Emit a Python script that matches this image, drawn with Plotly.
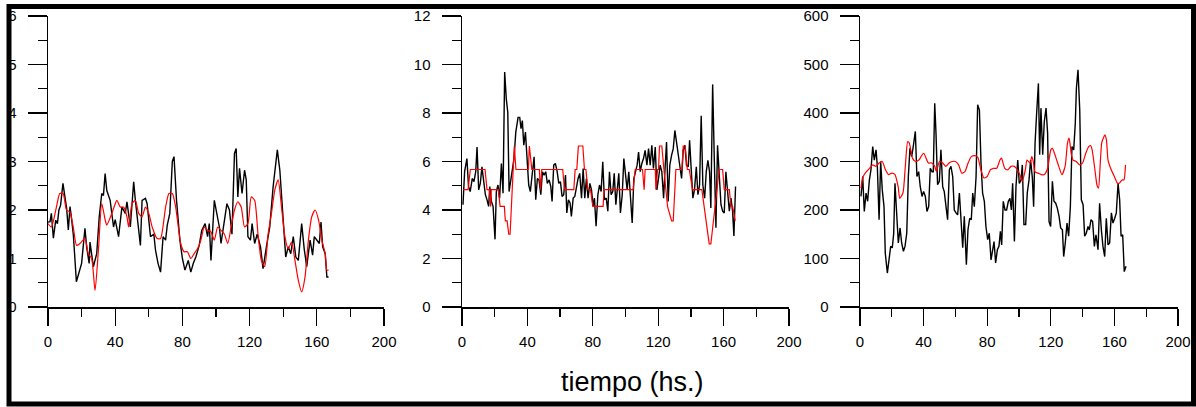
import plotly.graph_objects as go

# ---------------- data ----------------
# Panel 1
p1_black_t = [0, 1.2, 2, 3.2, 4.6, 5.6, 6.5, 7.5, 8.9, 10.1, 11.1, 12.1, 13.1, 13.9, 15.1, 16.9, 20, 22, 23, 24.5,
              25, 27, 29, 30.5, 32, 33, 34, 35, 37, 39, 40, 42, 43, 44, 46, 47, 49, 51, 52, 53,
              55, 56, 58, 59, 61, 63, 64, 65.5, 67, 68.5, 70, 71, 72.5, 74, 75, 76.5, 78.5, 80, 81.5, 83.5,
              85, 86.5, 88, 90, 91.5, 93.5, 95, 96, 97, 99, 100.5, 102, 103, 104.5, 106.5, 108, 109.5, 111, 112, 113,
              114, 115.5, 117, 118, 119, 120.5, 121.5, 123, 124.5, 126.5, 128, 130, 132, 134, 135.5, 136.5, 138, 140, 141.5, 143,
              144.5, 146, 147.5, 149, 151, 152.5, 154, 156, 157.5, 158.5, 160, 161.5, 162.5, 163.5, 165, 166, 167]
p1_black_v = [1.75, 1.76, 1.93, 1.42, 1.79, 1.72, 2.0, 2.1, 2.55, 2.27, 2.03, 1.59, 2.07, 1.86, 1.48, 0.52, 0.9, 1.62, 1.24, 0.9,
              1.34, 0.83, 1.1, 1.86, 2.34, 2.3, 2.75, 2.4, 2.2, 1.65, 1.8, 1.45, 1.8, 2.06, 1.93, 2.17, 1.65, 2.58, 2.2, 1.86,
              1.27, 2.2, 2.24, 2.13, 1.45, 1.5, 1.17, 0.9, 0.72, 1.45, 1.38, 1.69, 1.93, 3.0, 3.1, 2.2, 1.38, 1.0, 0.76, 0.96,
              0.72, 0.9, 1.03, 1.27, 1.58, 1.72, 1.45, 1.72, 0.96, 2.2, 1.93, 1.65, 1.31, 1.65, 2.13, 2.0, 1.5, 3.17, 3.27, 2.27,
              2.86, 2.34, 2.82, 2.62, 1.45, 1.38, 1.72, 1.31, 1.5, 1.24, 0.79, 1.24, 1.65, 2.48, 3.03, 3.24, 2.82, 1.65, 1.03, 1.24,
              1.1, 1.45, 1.03, 0.96, 1.72, 1.2, 0.83, 1.38, 1.07, 1.45, 1.38, 1.31, 1.75, 1.24, 1.1, 0.62, 0.62]
p1_red_t = [0, 2, 5, 7, 9, 11, 13, 15, 17, 19, 22, 24, 26, 28, 30, 32, 34, 35, 38, 41,
            43, 45, 47, 48, 50, 52, 54, 56, 58, 60, 62, 65, 67, 70, 72, 74, 76, 79, 81, 83,
            85, 87, 89, 91, 93, 95, 97, 99, 101, 103, 105, 107, 109, 111, 113, 115, 117, 119, 121, 123,
            125, 127, 129, 131, 133, 135, 137, 139, 141, 143, 145, 147, 149, 151, 153, 155, 157, 159, 161, 163,
            165, 166, 167]
p1_red_v = [1.72, 1.65, 2.06, 2.34, 2.34, 2.0, 1.96, 1.65, 1.27, 1.31, 1.41, 1.1, 1.0, 0.34, 1.17, 2.13, 1.8, 1.69, 1.93, 2.2,
            2.06, 2.06, 1.86, 1.65, 2.13, 2.2, 1.93, 1.86, 2.06, 1.93, 1.65, 1.41, 1.41, 2.06, 2.34, 2.34, 2.06, 1.31, 1.14, 1.14,
            1.0, 1.1, 1.2, 1.38, 1.65, 1.58, 1.55, 1.38, 1.65, 1.58, 1.5, 1.31, 1.65, 2.0, 2.17, 2.06, 1.65, 1.72, 2.27, 2.2,
            1.5, 0.96, 0.83, 1.5, 1.93, 2.41, 2.62, 2.06, 1.45, 1.2, 1.34, 0.96, 0.55, 0.31, 0.62, 1.38, 1.86, 2.0, 1.8, 1.38,
            1.1, 0.76, 0.76]

# Panel 2
p2_black_t = [0.6, 1.6, 3, 4, 5, 6.3, 7.3, 8.4, 9.2, 10.2, 11.2, 12.2, 13.3, 14.3, 15.3, 16.3, 17, 18, 19, 20.2,
              21, 22, 23, 24.1, 25.1, 26.1, 27.1, 28, 28.8, 29.8, 30.8, 31.8, 32.9, 34.3, 35.3, 36.1, 36.9, 37.8, 38.8, 39.8,
              40.8, 41.8, 43.1, 44.1, 45.1, 46.1, 47.1, 48.2, 49.2, 50.2, 51.2, 52.2, 53.3, 54.3, 55.1, 56.1, 57.1, 58.2, 59.2, 60.2,
              61.2, 62.2, 63.3, 64.1, 65.1, 66.1, 66.9, 68, 69, 70, 71, 72, 73.1, 74.1, 75.1, 76.1, 77.1, 78.2, 79.2, 80.2,
              81, 82, 83.1, 84.1, 85.1, 86.1, 87.1, 88.2, 89.2, 90.2, 91.2, 92.2, 93.1, 94.1, 95.1, 95.9, 96.9, 98, 99, 100,
              101, 102, 103.1, 104.1, 105.1, 106.1, 107.1, 108, 109, 110, 111, 112, 113.1, 114.1, 115.1, 116.1, 117.1, 118.2, 119.2, 120.2,
              121.2, 122.2, 123.3, 124.3, 125.1, 126.1, 127.1, 128.2, 129.2, 130.2, 131.2, 132.2, 133.3, 134.3, 135.3, 136.3, 137.3, 138.4, 139.2, 140.2,
              141.2, 142.2, 143.3, 144.3, 145.3, 146.3, 147.3, 148.4, 149.4, 150.4, 151.4, 152.2, 153.3, 154.3, 155.3, 156.3, 157.3, 158.4, 159.4, 160.4,
              161.4, 162.4, 163.5, 164.5, 165.5, 166.3, 167.3]
p2_black_v = [4.22, 5.58, 6.12, 4.97, 4.76, 5.3, 5.17, 5.58, 6.6, 4.83, 5.1, 5.78, 5.17, 4.63, 4.42, 4.15, 4.97, 4.35, 4.15, 2.79,
              4.76, 5.03, 4.49, 5.92, 4.69, 9.69, 8.57, 8.03, 4.76, 5.17, 5.58, 6.12, 7.21, 7.82, 7.82, 7.35, 7.69, 6.67, 7.21, 5.99,
              5.03, 4.76, 5.58, 6.19, 4.42, 5.3, 5.24, 4.63, 5.58, 5.44, 5.58, 5.1, 5.24, 4.97, 4.35, 5.85, 5.92, 5.58, 5.1, 5.17,
              4.56, 4.63, 5.44, 3.88, 4.42, 4.29, 3.74, 4.49, 4.56, 5.03, 5.3, 5.51, 4.49, 5.71, 4.49, 5.3, 4.49, 5.1, 4.83, 4.15,
              4.49, 3.33, 4.63, 5.03, 4.76, 5.99, 4.42, 4.49, 3.95, 5.58, 4.63, 4.76, 5.51, 4.22, 5.1, 5.51, 3.88, 4.63, 6.12, 5.3,
              4.83, 5.58, 4.63, 3.47, 5.3, 5.58, 5.85, 6.39, 5.58, 5.92, 6.12, 6.46, 5.85, 6.53, 5.85, 6.67, 5.71, 6.6, 4.83, 5.3,
              5.85, 5.58, 4.49, 5.85, 6.8, 4.35, 5.85, 6.26, 6.53, 7.28, 6.8, 6.26, 5.85, 5.3, 6.46, 6.67, 5.85, 5.78, 6.87, 5.65,
              4.49, 4.83, 5.78, 4.63, 5.03, 7.89, 5.03, 4.49, 5.58, 6.05, 5.58, 4.08, 9.18, 6.12, 3.27, 6.67, 5.58, 4.22, 3.95, 3.88,
              5.58, 4.63, 3.95, 4.49, 3.95, 2.93, 4.97]
p2_red_t = [0.6, 3.7, 5.1, 14.1, 15.3, 16.7, 17.5, 17.9, 22.2, 23.3, 25.9, 26.5, 27.6, 28.6, 29.4, 32.0, 33.0, 40.6, 41.2, 42.7,
            47.3, 48.0, 48.8, 61.6, 62.7, 68.4, 69.2, 70.2, 71.2, 73.9, 74.9, 75.8, 76.9, 78.6, 80.0, 86.3, 86.9, 104.7, 105.9, 108.0,
            108.6, 110.4, 111.4, 112.0, 118.2, 118.6, 119.6, 120.2, 120.8, 122.2, 123.5, 125.7, 128.2, 129.2, 130.8, 134.5, 135.3, 136.5, 137.8, 139.0,
            141.0, 146.7, 151.2, 152.2, 157.3, 159.4, 160.4, 163.5, 164.5, 165.5, 167.1]
p2_red_v = [4.84, 4.84, 5.67, 5.67, 4.84, 4.84, 4.15, 4.84, 4.84, 4.15, 4.15, 3.55, 3.55, 3.0, 3.0, 6.64, 5.67, 5.67, 6.64, 5.67,
            5.67, 4.84, 5.67, 5.67, 4.84, 4.84, 5.67, 5.67, 6.64, 6.64, 5.67, 5.67, 4.84, 4.84, 4.15, 4.15, 4.84, 4.84, 5.67, 5.67,
            5.67, 5.67, 4.84, 5.67, 5.67, 4.84, 5.67, 5.67, 6.64, 6.64, 5.67, 4.15, 3.55, 3.55, 5.67, 5.67, 6.64, 6.64, 5.67, 5.67,
            4.84, 4.84, 2.6, 2.6, 5.67, 5.67, 4.84, 4.84, 4.15, 4.15, 3.55]

# Panel 3
p3_black_t = [0.6, 1.7, 2.7, 3.8, 4.8, 5.9, 6.9, 8, 9, 10.1, 10.9, 12, 13, 14, 15.1, 15.9, 17.2, 18.2, 19.3, 20.3,
              21.2, 22, 23.1, 24.1, 25.2, 26.2, 27.3, 28.3, 29.4, 30.4, 31.4, 32.5, 33.5, 34.8, 35.8, 36.9, 37.9, 39, 40, 41.1,
              42.1, 43.2, 44.2, 45.3, 46.1, 47, 47.8, 48.8, 49.9, 50.9, 52, 53, 54.1, 55.1, 56.2, 57.2, 58.3, 59.3, 60.4, 61.4,
              62.5, 63.5, 64.6, 65.6, 66.9, 67.9, 69, 70, 70.9, 71.9, 73, 74, 75.1, 76.1, 77.1, 78.2, 79.2, 80.3, 81.3, 82.4,
              83.4, 84.3, 85.3, 86.4, 87.4, 88.3, 89.1, 90.1, 91.2, 92.2, 93.3, 94.3, 95.2, 96, 97.1, 98.1, 99.2, 100.2, 101.3, 102.1,
              103.1, 104.2, 105.2, 106.3, 107.3, 108.4, 109.2, 110.1, 111.1, 112.2, 113, 113.8, 114.9, 115.9, 117, 118, 118.9, 119.9, 121, 122,
              123.1, 124.1, 125.2, 126.2, 127.3, 128.1, 129.1, 130.2, 131.2, 132.3, 133.3, 134.4, 135.4, 136.1, 137.1, 138.2, 139.2, 140.3, 141.3, 142.3,
              143.4, 144.2, 145.3, 146.3, 147.4, 148.4, 149.7, 150.7, 151.8, 152.8, 153.9, 154.9, 156, 157, 158.1, 159.1, 160.2, 161.2, 162.3, 163.3,
              164.2, 165.2, 166.2, 167.3]
p3_black_v = [228, 269, 197, 235, 218, 262, 283, 331, 303, 324, 290, 180, 300, 242, 207, 111, 70, 97, 125, 122,
              152, 255, 200, 132, 163, 132, 115, 125, 152, 269, 327, 310, 331, 362, 269, 279, 248, 228, 238, 228,
              197, 207, 286, 279, 279, 420, 358, 252, 259, 324, 248, 238, 207, 180, 283, 290, 269, 200, 194, 190,
              235, 180, 122, 187, 87, 159, 183, 180, 235, 207, 269, 417, 406, 297, 235, 218, 166, 139, 152, 97,
              115, 135, 91, 118, 125, 156, 128, 218, 200, 200, 218, 224, 200, 255, 135, 248, 303, 255, 262, 293,
              170, 170, 235, 262, 303, 266, 207, 338, 400, 461, 314, 410, 314, 382, 410, 358, 176, 166, 259, 218,
              214, 204, 187, 163, 159, 104, 132, 173, 146, 207, 331, 324, 379, 451, 489, 406, 221, 211, 146, 152,
              166, 159, 180, 176, 125, 149, 118, 214, 159, 125, 104, 183, 128, 132, 194, 173, 183, 194, 255, 221,
              146, 149, 73, 84]
p3_red_t = [0.6, 2, 4, 6, 8, 10, 12, 14, 16, 18, 20, 22, 24, 25, 27, 28.5, 30, 31, 33, 35,
            37, 40, 43, 45, 47, 48, 50, 52, 54, 56, 58, 60, 62, 64, 66, 68, 70, 72, 74, 76,
            78, 80, 82, 84, 86, 88, 89, 91, 93, 95, 97, 99, 101, 102, 104, 105, 106, 107, 108, 109,
            110, 112, 114, 116, 118, 120, 121, 123, 125, 127, 129, 130.5, 131.5, 133, 134, 136, 138, 140, 142, 144,
            145, 146, 148, 149, 150, 151, 152, 153, 154, 155, 156, 158, 160, 162, 163, 164, 165, 166, 167]
p3_red_v = [245, 269, 279, 286, 293, 290, 297, 300, 283, 273, 276, 273, 248, 224, 235, 290, 341, 338, 307, 300,
            303, 317, 297, 297, 290, 279, 300, 297, 290, 297, 300, 300, 293, 276, 279, 297, 310, 312, 309, 283,
            266, 269, 283, 286, 286, 303, 307, 286, 283, 290, 290, 283, 269, 259, 283, 303, 300, 297, 310, 300,
            279, 276, 273, 273, 286, 324, 327, 310, 290, 273, 290, 338, 348, 313, 303, 300, 293, 297, 317, 331,
            333, 324, 276, 252, 245, 290, 338, 348, 355, 344, 303, 283, 269, 255, 255, 259, 262, 262, 293]

x_ticks = [0, 40, 80, 120, 160, 200]
x_minor = [20, 60, 100, 140, 180]
y_ticks_1 = [0, 1, 2, 3, 4, 5, 6]
y_ticks_2 = [0, 2, 4, 6, 8, 10, 12]
y_ticks_3 = [0, 100, 200, 300, 400, 500, 600]
x_title = "tiempo (hs.)"

# ---------------- figure ----------------
W, H = 1196, 407
FONT = "Liberation Sans, Arial, sans-serif"

fig = go.Figure()

panels = [
    (p1_black_t, p1_black_v, p1_red_t, p1_red_v, "spline"),
    (p2_black_t, p2_black_v, p2_red_t, p2_red_v, "linear"),
    (p3_black_t, p3_black_v, p3_red_t, p3_red_v, "spline"),
]
for i, (bt, bv, rt, rv, shape) in enumerate(panels):
    suf = "" if i == 0 else str(i + 1)
    fig.add_trace(go.Scatter(x=bt, y=bv, mode="lines", line=dict(color="black", width=1.4),
                             xaxis="x" + suf, yaxis="y" + suf, showlegend=False, hoverinfo="skip"))
    fig.add_trace(go.Scatter(x=rt, y=rv, mode="lines",
                             line=dict(color="#ff0000", width=1.2, shape=shape, smoothing=0.6),
                             xaxis="x" + suf, yaxis="y" + suf, showlegend=False, hoverinfo="skip"))

# pixel geometry of each panel (x at 0, x at 200, y top, y bottom)
geom = [(48, 384, 16, 307), (462, 789, 16, 307), (860, 1178, 16, 307)]
yt = [y_ticks_1, y_ticks_2, y_ticks_3]

layout = dict(width=W, height=H, margin=dict(l=0, r=0, t=0, b=0, pad=0),
              paper_bgcolor="white", plot_bgcolor="rgba(0,0,0,0)",
              font=dict(family=FONT, size=15, color="black"))

for i, (x0, x1, ytop, ybot) in enumerate(geom):
    suf = "" if i == 0 else str(i + 1)
    ticks = yt[i]
    step = ticks[1] - ticks[0]
    layout["xaxis" + suf] = dict(
        domain=[x0 / W, x1 / W], anchor="y" + suf, range=[0, 200], automargin=False, fixedrange=True,
        tickmode="array", tickvals=x_ticks, ticktext=[str(v) for v in x_ticks],
        ticks="outside", ticklen=17, tickwidth=1.3, tickcolor="black",
        minor=dict(tickmode="array", tickvals=x_minor, ticks="outside", ticklen=8, tickwidth=1.3, tickcolor="black"),
        showline=True, linecolor="black", linewidth=1.5, showgrid=False, zeroline=False,
        ticklabelstandoff=3, tickfont=dict(size=15, family=FONT, color="black"))
    layout["yaxis" + suf] = dict(
        domain=[(H - ybot) / H, (H - ytop) / H], anchor="x" + suf, range=[ticks[0], ticks[-1]], automargin=False,
        fixedrange=True,
        tickmode="array", tickvals=ticks, ticktext=[str(v) for v in ticks],
        ticks="outside", ticklen=19, tickwidth=1.3, tickcolor="black",
        minor=dict(tickmode="array", tickvals=[v + step / 2 for v in ticks[:-1]], ticks="outside",
                   ticklen=9, tickwidth=1.3, tickcolor="black"),
        showline=True, linecolor="black", linewidth=1.5, showgrid=False, zeroline=False,
        ticklabelstandoff=8, tickfont=dict(size=15, family=FONT, color="black"))

fig.update_layout(**layout)

fig.add_annotation(text=x_title, xref="paper", yref="paper", x=632 / W, y=(H - 382) / H,
                   xanchor="center", yanchor="middle", showarrow=False,
                   font=dict(family="Liberation Sans, Arial, sans-serif", size=27, color="black"))

# outer thick frame
fig.add_shape(type="rect", xref="paper", yref="paper",
              x0=9 / W, x1=1193.5 / W, y0=(H - 404) / H, y1=(H - 6.5) / H,
              line=dict(color="black", width=5), fillcolor="rgba(0,0,0,0)", layer="below")

fig.write_html("out.html", config={"displayModeBar": False, "staticPlot": True},
               post_script="document.body.style.margin='0';document.body.style.padding='0';"
                           "document.body.style.overflow='hidden';")
